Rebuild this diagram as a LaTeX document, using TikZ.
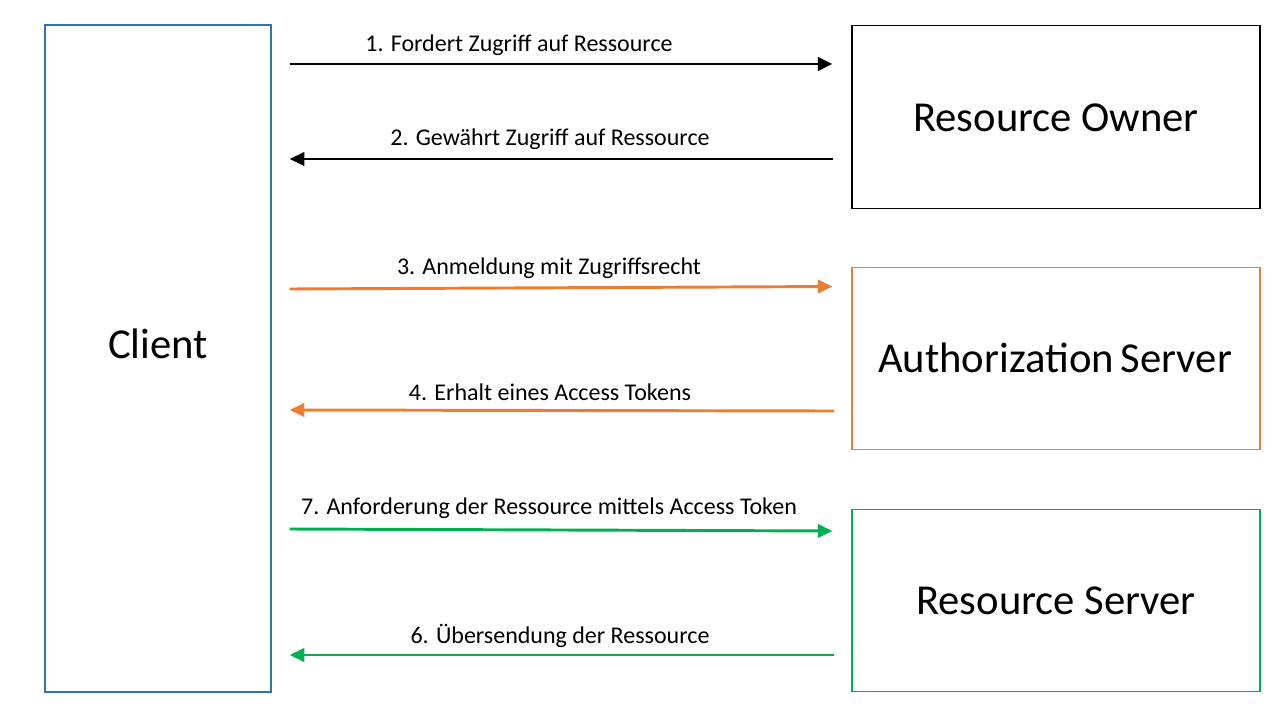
\documentclass[tikz,border=0pt]{standalone}
\usepackage{fontspec}
\setmainfont{Carlito}
\usetikzlibrary{arrows.meta}
\definecolor{cblue}{HTML}{2E75B6}
\definecolor{corange}{HTML}{ED7D31}
\definecolor{cgreen}{HTML}{00B050}
\tikzset{
  box/.style={draw, line width=0.8pt, minimum width=306pt, minimum height=137pt, inner sep=0pt},
  boxtext/.style={inner sep=0pt, font=\fontsize{32}{38}\selectfont},
  lbl/.style={inner sep=0pt, font=\fontsize{18}{22}\selectfont},
  arr/.style={line width=2.2pt, -{Triangle[length=11pt,width=10pt]}},
}
\begin{document}
\begin{tikzpicture}[x=0.75pt,y=-0.75pt]
\useasboundingbox[fill=white] (0,0) rectangle (1280,720);
\node[box, draw=cblue, line width=1pt, minimum width=169.5pt, minimum height=500pt] (client) at (158,358.5) {};
\node[boxtext] (clientt) at (158,344) {Client};
\node[box, draw=black] (ro) at (1056,117) {};
\node[boxtext] (rot) at (1056,118) {Resource Owner};
\node[box, draw=corange] (as) at (1056,358.5) {};
\node[boxtext] (ast) at (1055,358) {Authorization\hspace{-2pt} Server};
\node[box, draw=cgreen] (rs) at (1056,600.5) {};
\node[boxtext] (rst) at (1056,601) {Resource Server};

\draw[arr, black] ([xshift=13.5pt]client.east |- 0,64) -- ([xshift=-14.25pt]ro.west |- 0,64);
\draw[arr, black] ([xshift=-13.5pt]ro.west |- 0,159) -- ([xshift=13.5pt]client.east |- 0,159);
\draw[arr, corange] ([xshift=13.5pt]client.east |- 0,289) -- ([xshift=-14.25pt]as.west |- 0,286.5);
\draw[arr, corange] ([xshift=-12.75pt]as.west |- 0,411) -- ([xshift=13.5pt]client.east |- 0,410);
\draw[arr, cgreen] ([xshift=13.5pt]client.east |- 0,529) -- ([xshift=-14.25pt]rs.west |- 0,531);
\draw[arr, cgreen] ([xshift=-12.75pt]rs.west |- 0,655) -- ([xshift=13.5pt]client.east |- 0,655);

\node[lbl] (l1) at (519,45) {1. Fordert Zugriff auf Ressource};
\node[lbl] (l2) at (550,139) {2. Gewährt Zugriff auf Ressource};
\node[lbl] (l3) at (549,268) {3. Anmeldung mit Zugriffsrecht};
\node[lbl] (l4) at (550,392) {4. Erhalt eines Access Tokens};
\node[lbl] (l7) at (549,508) {7. Anforderung der Ressource mittels Access Token};
\node[lbl] (l6) at (560,636) {6. Übersendung der Ressource};
\end{tikzpicture}
\end{document}
